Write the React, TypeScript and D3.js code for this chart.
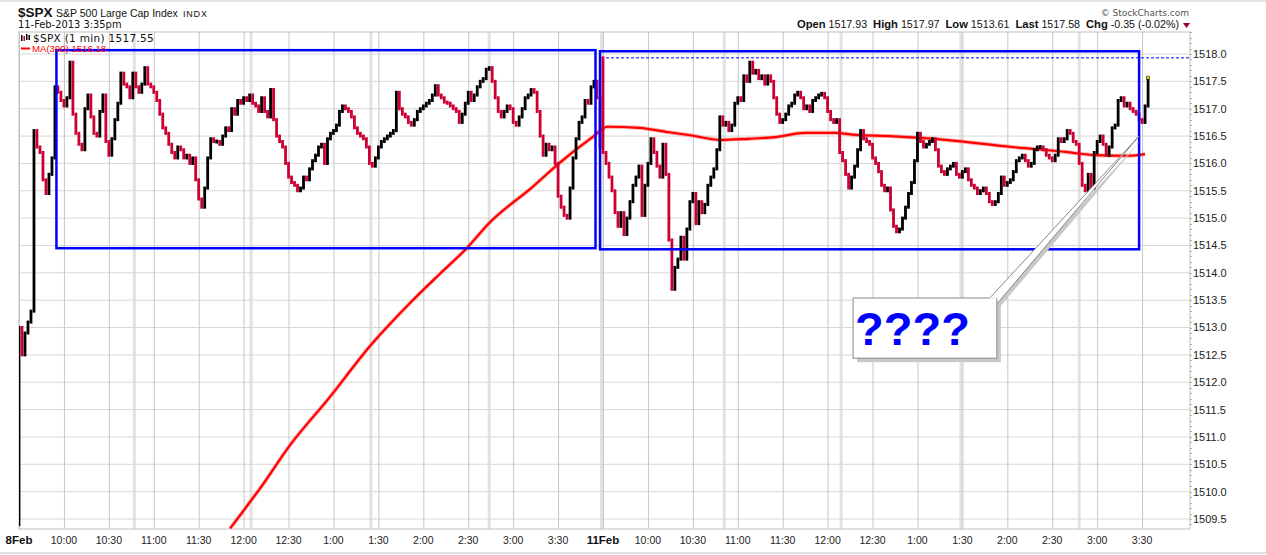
import React from "react"
import * as d3 from "d3"

// ---- data ----
const prevClose = 1509.4
const day2Open = 1517.93

// 2-minute closes, 8 Feb (9:30 .. 15:58)
const day1Close = [
  1513.0, 1512.5, 1512.9, 1513.1, 1513.3, 1516.6, 1516.3, 1516.2, 1515.7, 1515.45,
  1515.8, 1516.1, 1517.4, 1517.3, 1517.15, 1517.05, 1517.2, 1517.85, 1516.9, 1516.55,
  1516.35, 1516.25, 1517.0, 1517.25, 1516.85, 1516.55, 1516.5, 1516.95, 1517.25, 1516.4,
  1516.15, 1516.45, 1516.8, 1517.1, 1517.65, 1517.45, 1517.4, 1517.2, 1517.65, 1517.4,
  1517.3, 1517.45, 1517.75, 1517.45, 1517.4, 1517.3, 1517.15, 1516.9, 1516.65, 1516.55,
  1516.35, 1516.2, 1516.1, 1516.3, 1516.25, 1516.1, 1516.15, 1516.0, 1516.1, 1515.7,
  1515.35, 1515.2, 1515.55, 1516.1, 1516.45, 1516.4, 1516.4, 1516.35, 1516.5, 1516.65,
  1516.6, 1517.0, 1516.9, 1517.15, 1517.1, 1517.2, 1517.15, 1517.25, 1517.1, 1517.05,
  1516.95, 1517.2, 1516.95, 1516.85, 1517.35, 1516.8, 1516.5, 1516.4, 1516.3, 1516.0,
  1515.75, 1515.65, 1515.6, 1515.5, 1515.55, 1515.75, 1515.7, 1515.9, 1516.05, 1516.15,
  1516.3, 1516.35, 1516.0, 1516.45, 1516.55, 1516.6, 1516.7, 1516.95, 1517.05, 1517.0,
  1516.95, 1516.85, 1516.65, 1516.55, 1516.5, 1516.45, 1516.3, 1516.0, 1515.95, 1516.1,
  1516.3, 1516.4, 1516.45, 1516.5, 1516.55, 1516.6, 1517.3, 1517.0, 1516.9, 1516.85,
  1516.75, 1516.7, 1516.8, 1516.95, 1517.0, 1517.05, 1517.1, 1517.15, 1517.25, 1517.42,
  1517.25, 1517.2, 1517.12, 1517.1, 1517.05, 1517.0, 1516.95, 1516.75, 1516.9, 1517.1,
  1517.3, 1517.15, 1517.25, 1517.4, 1517.5, 1517.55, 1517.72, 1517.75, 1517.5, 1517.2,
  1516.95, 1516.85, 1516.95, 1517.05, 1517.0, 1516.75, 1516.7, 1516.85, 1517.0, 1517.2,
  1517.25, 1517.35, 1517.3, 1516.95, 1516.5, 1516.15, 1516.35, 1516.25, 1516.3, 1516.0,
  1515.4, 1515.2, 1515.05, 1515.0, 1515.55, 1516.1, 1516.45, 1516.75, 1516.85, 1517.15,
  1517.1, 1517.4, 1517.5, 1517.2, 1516.3,
]

// 2-minute closes, 11 Feb (9:30 .. 15:34)
const day2Close = [
  1516.2, 1516.0, 1515.75, 1515.5, 1515.1, 1514.85, 1515.1, 1514.7, 1515.0, 1515.3,
  1515.6, 1515.75, 1515.95, 1515.05, 1515.6, 1516.0, 1516.45, 1516.2, 1515.95, 1515.75,
  1516.35, 1515.8, 1514.6, 1513.7, 1514.1, 1514.25, 1514.65, 1514.25, 1514.8, 1515.3,
  1515.45, 1514.9, 1515.3, 1515.1, 1515.25, 1515.6, 1515.75, 1515.9, 1516.25, 1516.85,
  1516.7, 1516.75, 1516.6, 1516.7, 1517.1, 1517.2, 1517.15, 1517.6, 1517.5, 1517.85,
  1517.65, 1517.7, 1517.55, 1517.6, 1517.45, 1517.6, 1517.5, 1517.2, 1516.9, 1516.75,
  1516.8, 1516.9, 1517.05, 1517.1, 1517.25, 1517.3, 1517.2, 1517.0, 1517.05, 1516.95,
  1517.15, 1517.2, 1517.25, 1517.28, 1517.2, 1516.95, 1516.8, 1516.75, 1516.8, 1516.2,
  1516.05, 1515.8, 1515.55, 1515.75, 1515.95, 1516.25, 1516.6, 1516.45, 1516.4, 1516.35,
  1516.1, 1516.0, 1515.85, 1515.6, 1515.5, 1515.55, 1515.15, 1514.85, 1514.75, 1514.8,
  1515.0, 1515.2, 1515.45, 1515.65, 1516.05, 1516.55, 1516.4, 1516.3, 1516.35, 1516.4,
  1516.45, 1516.25, 1515.95, 1515.85, 1515.8, 1515.9, 1515.95, 1516.0, 1515.8, 1515.75,
  1515.85, 1515.9, 1515.7, 1515.6, 1515.55, 1515.45, 1515.5, 1515.55, 1515.45, 1515.3,
  1515.25, 1515.3, 1515.45, 1515.75, 1515.6, 1515.65, 1515.7, 1515.85, 1516.05, 1516.1,
  1516.15, 1516.05, 1515.95, 1516.0, 1516.25, 1516.3, 1516.3, 1516.25, 1516.15, 1516.1,
  1516.05, 1516.15, 1516.45, 1516.4, 1516.45, 1516.6, 1516.55, 1516.4, 1516.35, 1516.0,
  1515.6, 1515.5, 1515.8, 1515.55, 1516.2, 1516.4, 1516.5, 1516.35, 1516.15, 1516.3,
  1516.65, 1516.7, 1517.15, 1517.2, 1517.05, 1517.1, 1517.0, 1516.95, 1516.9, 1516.8,
  1516.75, 1517.05, 1517.55,
]

// MA(390), minute index from 8 Feb open
const maMinute = [141, 161, 181, 207, 235, 263, 281, 299, 314, 343, 361, 383, 393, 414, 434, 447, 469, 487, 505, 525, 545, 559, 581, 619, 663, 699, 719, 741, 752]
const maValue = [
  1509.33, 1510.06, 1510.85, 1511.71, 1512.68, 1513.5, 1513.98, 1514.45, 1514.91, 1515.57,
  1516.01, 1516.48, 1516.67, 1516.65, 1516.57, 1516.52, 1516.43, 1516.45, 1516.48, 1516.56,
  1516.56, 1516.52, 1516.5, 1516.43, 1516.3, 1516.21, 1516.15, 1516.14, 1516.17,
]

const yTicks = [1509.5, 1510, 1510.5, 1511, 1511.5, 1512, 1512.5, 1513, 1513.5, 1514, 1514.5, 1515, 1515.5, 1516, 1516.5, 1517, 1517.5, 1518]
const dayLabels = ["8Feb", "11Feb"]
const timeLabels = ["10:00", "10:30", "11:00", "11:30", "12:00", "12:30", "1:00", "1:30", "2:00", "2:30", "3:00", "3:30"]
const bandMinutes = [77, 155, 235, 314, 389, 471, 549, 629, 708]

// drawn annotations, in minute / price units
const boxes = [
  { from: 25, to: 385, top: 1518.07, bottom: 1514.45 },
  { from: 388, to: 748, top: 1518.05, bottom: 1514.43 },
]
const callout = { from: 557, to: 653, top: 1513.54, bottom: 1512.44, tipMinute: 748, tipPrice: 1516.5 }

const minutesPerDay = 390
const W = 1266
const H = 555
const plot = { left: 19, right: 1190, top: 32, bottom: 529 }
const UP = "#000000"
const DOWN = "#cc0033"
const sans = "'Liberation Sans', Arial, sans-serif"
const verd = "'DejaVu Sans', Verdana, sans-serif"

export default function App() {
  const x = d3.scaleLinear().domain([0, 782]).range([plot.left, plot.right])
  const y = d3.scaleLinear().domain([1509.5, 1518]).range([519, 54])

  const bars: { i: number; o: number; c: number }[] = []
  let prev = prevClose
  day1Close.forEach((c, k) => {
    bars.push({ i: 2 * k, o: prev, c })
    prev = c
  })
  prev = day2Open
  day2Close.forEach((c, j) => {
    bars.push({ i: minutesPerDay + 2 * j, o: prev, c })
    prev = c
  })
  const last = bars[bars.length - 1]

  const maLine = d3
    .line<number>()
    .x((_, k) => x(maMinute[k]))
    .y((v) => y(v))
    .curve(d3.curveMonotoneX)(maValue) as string

  const tickMinutes: number[] = []
  ;[0, 1].forEach((d) => {
    for (let n = 0; n <= 12; n++) tickMinutes.push(d * minutesPerDay + n * 30)
  })

  const minor = d3.range(1509.4, 1518.45, 0.1)

  // callout pointer
  const cbx1 = x(callout.to)
  const cby1 = y(callout.top)
  const tipX = x(callout.tipMinute)
  const tipY = y(callout.tipPrice)
  const pointer = [
    [cbx1 - 7, cby1],
    [cbx1, cby1 + 6],
    [tipX, tipY],
  ]

  return (
    <div style={{ position: "fixed", left: 0, top: 0, width: W, height: H, background: "#fff" }}>
      <svg width={W} height={H} style={{ display: "block" }}>
        <defs>
          <clipPath id="plotClip">
            <rect x={plot.left} y={plot.top} width={plot.right - plot.left} height={plot.bottom - plot.top} />
          </clipPath>
        </defs>
        <line x1={0} x2={W} y1={1} y2={1} stroke="#c8c8c8" />
        <line x1={0} x2={W} y1={553} y2={553} stroke="#c8c8c8" />

        {/* header */}
        <text x={18} y={17} fontFamily={sans} fontSize={13.5} fontWeight="bold" fill="#111">
          $SPX
        </text>
        <text x={56} y={17} fontFamily={sans} fontSize={10.5} fill="#111">
          S&amp;P 500 Large Cap Index
        </text>
        <text x={183} y={17} fontFamily={sans} fontSize={9} letterSpacing={0.8} fill="#111">
          INDX
        </text>
        <text x={18} y={28} fontFamily={verd} fontSize={9.9} fill="#111">
          11-Feb-2013 3:35pm
        </text>
        <text x={1189} y={16} textAnchor="end" fontFamily={verd} fontSize={9} fill="#555">
          © StockCharts.com
        </text>
        <text x={1179} y={28} textAnchor="end" fontFamily={sans} fontSize={10.7} fill="#111" style={{ whiteSpace: "pre" }}>
          <tspan fontWeight="bold" fontSize={11.2}>Open</tspan>
          <tspan>{" 1517.93  "}</tspan>
          <tspan fontWeight="bold" fontSize={11.2}>High</tspan>
          <tspan>{" 1517.97  "}</tspan>
          <tspan fontWeight="bold" fontSize={11.2}>Low</tspan>
          <tspan>{" 1513.61  "}</tspan>
          <tspan fontWeight="bold" fontSize={11.2}>Last</tspan>
          <tspan>{" 1517.58  "}</tspan>
          <tspan fontWeight="bold" fontSize={11.2}>Chg</tspan>
          <tspan>{" -0.35 (-0.02%)"}</tspan>
        </text>
        <path d="M1183,23 L1190,23 L1186.5,28 Z" fill="#990033" />

        {/* grid */}
        {bandMinutes.map((m) => (
          <line key={"b" + m} x1={x(m)} x2={x(m)} y1={plot.top} y2={plot.bottom} stroke="#e2e2e2" strokeWidth={3} />
        ))}
        {yTicks.map((t) => (
          <line key={"h" + t} x1={plot.left} x2={plot.right} y1={y(t)} y2={y(t)} stroke="#d8d8d8" />
        ))}
        {tickMinutes.map((m) => (
          <line key={"v" + m} x1={x(m) + 0.5} x2={x(m) + 0.5} y1={plot.top} y2={plot.bottom} stroke="#c6c6c6" />
        ))}
        <rect x={plot.left} y={plot.top} width={plot.right - plot.left} height={plot.bottom - plot.top} fill="none" stroke="#c0c0c0" />

        {/* right axis */}
        {minor.map((t) => (
          <line key={"m" + t} x1={plot.right} x2={plot.right + 2} y1={Math.round(y(t)) + 0.5} y2={Math.round(y(t)) + 0.5} stroke="#b0b0b0" />
        ))}
        {yTicks.map((t) => (
          <text key={"yl" + t} x={plot.right + 3} y={y(t)} dy="0.36em" fontFamily={sans} fontSize={11} fill="#222">
            {t.toFixed(1)}
          </text>
        ))}

        {/* bottom axis */}
        {dayLabels.map((l, d) => (
          <text key={l} x={x(d * minutesPerDay)} y={544} textAnchor="middle" fontFamily={sans} fontSize={11.5} fontWeight="bold" fill="#111">
            {l}
          </text>
        ))}
        {dayLabels.map((_, d) =>
          timeLabels.map((l, n) => (
            <text key={d + l} x={x(d * minutesPerDay + (n + 1) * 30)} y={544} textAnchor="middle" fontFamily={sans} fontSize={10.5} fill="#222">
              {l}
            </text>
          ))
        )}

        <g clipPath="url(#plotClip)">
          {/* open price line */}
          <line x1={x(minutesPerDay + 2)} x2={plot.right} y1={y(day2Open)} y2={y(day2Open)} stroke="#0000ff" strokeDasharray="3,2" />

          {/* MA(390) */}
          <path d={maLine} fill="none" stroke="#ff7a7a" strokeOpacity={0.6} strokeWidth={4} />
          <path d={maLine} fill="none" stroke="#ff0000" strokeWidth={2.2} />

          {/* price bars */}
          {bars.map((b) => {
            const top = y(Math.max(b.o, b.c)) - 1.5
            const bot = y(Math.min(b.o, b.c)) + 1.5
            const h = Math.max(bot - top, 4)
            return (
              <rect key={b.i} x={x(b.i) - 1.4} y={(top + bot) / 2 - h / 2} width={2.8} height={h} fill={b.c >= b.o ? UP : DOWN} />
            )
          })}
          <rect x={x(last.i) - 1.5} y={y(last.c) - 2.5} width={3} height={3} fill="#ffee00" stroke="#000" strokeWidth={0.5} />

          {/* drawn boxes */}
          {boxes.map((bx, k) => (
            <rect key={"box" + k} x={x(bx.from)} y={y(bx.top)} width={x(bx.to) - x(bx.from)} height={y(bx.bottom) - y(bx.top)} fill="none" stroke="#0000ff" strokeWidth={2.5} />
          ))}

          {/* callout */}
          <polygon points={pointer.map((p) => `${p[0] + 3},${p[1] + 3}`).join(" ")} fill="#c8c8c8" />
          <rect x={x(callout.from) + 4} y={y(callout.top) + 4} width={x(callout.to) - x(callout.from)} height={y(callout.bottom) - y(callout.top)} fill="#c8c8c8" />
          <polygon points={pointer.map((p) => p.join(",")).join(" ")} fill="#fff" stroke="#888" />
          <rect x={x(callout.from)} y={y(callout.top)} width={x(callout.to) - x(callout.from)} height={y(callout.bottom) - y(callout.top)} fill="#fff" stroke="#888" />
          <line x1={cbx1 - 7} x2={cbx1} y1={cby1} y2={cby1} stroke="#fff" strokeWidth={1.5} />
          <text x={x(callout.from) + 2} y={y(callout.bottom) - 13} fontFamily={sans} fontSize={47} fontWeight="bold" fill="#0000ff">
            ????
          </text>
        </g>

        {/* legend */}
        <g>
          <rect x={21} y={35} width={1.5} height={6} fill={UP} />
          <rect x={23.5} y={36} width={1.5} height={5} fill={DOWN} />
          <rect x={26} y={34} width={1.5} height={6} fill={UP} />
          <rect x={28.5} y={35} width={1.5} height={5} fill={UP} />
          <text x={33} y={42} fontFamily={verd} fontSize={10.5} letterSpacing={0.3} fill="#111">
            $SPX (1 min) 1517.55
          </text>
          <rect x={21} y={47.5} width={9} height={2} fill="#ff0000" />
          <text x={32} y={52} fontFamily={sans} fontSize={9.6} fill="#ff0000">
            MA(390) 1516.18
          </text>
        </g>
      </svg>
    </div>
  )
}
